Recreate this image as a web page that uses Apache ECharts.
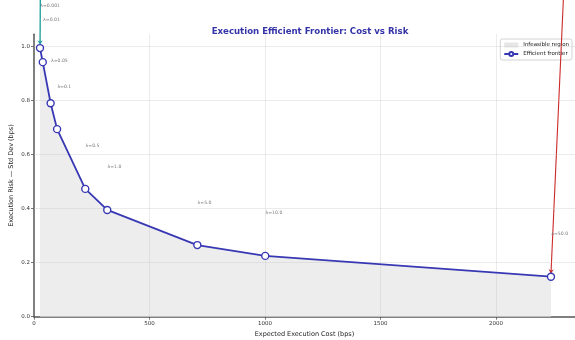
<!DOCTYPE html>
<html>
<head>
<meta charset="utf-8">
<script src="https://cdn.jsdelivr.net/npm/echarts@6/dist/echarts.min.js"></script>
<style>
  html, body { margin: 0; padding: 0; background: #fff; }
  #chart { width: 575px; height: 340px; }
</style>
</head>
<body>
<div id="chart"></div>
<script>
// Efficient frontier: expected cost vs execution risk for each risk-aversion level
const costBps = [26, 38, 72, 100, 222, 317, 707, 1001, 2238];
const riskBps = [0.994, 0.942, 0.790, 0.694, 0.473, 0.395, 0.265, 0.225, 0.148];
const lambdaLabels = ['λ=0.001', 'λ=0.01', 'λ=0.05', 'λ=0.1', 'λ=0.5', 'λ=1.0', 'λ=5.0', 'λ=10.0', 'λ=50.0'];

// Axis ticks / grid positions
const xTicks = [500, 1000, 1500, 2000];
const yTicks = [0.2, 0.4, 0.6, 0.8, 1.0];

// Annotation arrows (start -> tip) pointing at the two extreme schedules
const minRiskArrow = [[27.3, 1.18], [26.3, 1.007]];
const minCostArrow = [[2292, 1.18], [2238, 0.16]];

const FRONTIER = '#3838b4';
const FONT = 'DejaVu Sans';

const frontierData = costBps.map((c, i) => [c, riskBps[i]]);

const chart = echarts.init(document.getElementById('chart'), null, { renderer: 'canvas' });

chart.setOption({
  animation: false,
  backgroundColor: '#fff',
  textStyle: { fontFamily: FONT },
  title: {
    text: 'Execution Efficient Frontier: Cost vs Risk',
    left: 305, top: 22, textAlign: 'center',
    textStyle: { fontFamily: FONT, fontSize: 8.6, fontWeight: 'bold', color: '#3434a8' }
  },
  grid: { left: 34, right: 0, top: 34.3, bottom: 23.3, containLabel: false, outerBoundsMode: 'none' },
  legend: {
    orient: 'vertical',
    right: 3, top: 39,
    itemWidth: 14, itemHeight: 5, itemGap: 3,
    padding: [3, 3, 3, 3],
    borderColor: '#c8c8c8', borderWidth: 0.8, borderRadius: 2,
    backgroundColor: '#fff',
    textStyle: { fontFamily: FONT, fontSize: 5.5, color: '#222' },
    data: [
      { name: 'Infeasible region', icon: 'rect' },
      { name: 'Efficient frontier' }
    ]
  },
  xAxis: {
    type: 'value', min: 0, max: 2342, interval: 500,
    name: 'Expected Execution Cost (bps)', nameLocation: 'middle', nameGap: 14,
    nameMoveOverlap: false,
    nameTextStyle: { fontFamily: FONT, fontSize: 6.5, color: '#222' },
    axisLine: { show: true, lineStyle: { color: '#555', width: 1.5 } },
    axisTick: { show: true, length: 3, lineStyle: { color: '#555', width: 0.8 } },
    axisLabel: { fontSize: 5.5, color: '#333', margin: 4, showMaxLabel: false, fontFamily: FONT,
      formatter: v => String(Math.round(v)) },
    splitLine: { show: false }
  },
  yAxis: {
    type: 'value', min: 0, max: 1.045, interval: 0.2,
    name: 'Execution Risk — Std Dev (bps)', nameLocation: 'middle', nameGap: 19,
    nameMoveOverlap: false,
    nameTextStyle: { fontFamily: FONT, fontSize: 6.5, color: '#222' },
    axisLine: { show: true, lineStyle: { color: '#555', width: 1.5 } },
    axisTick: { show: true, length: 3, lineStyle: { color: '#555', width: 0.8 } },
    axisLabel: { fontSize: 5.5, color: '#333', margin: 4, showMaxLabel: false, fontFamily: FONT,
      formatter: v => v.toFixed(1) },
    splitLine: { show: false }
  },
  series: [
    {
      name: 'Infeasible region',
      type: 'line',
      data: frontierData,
      symbol: 'none',
      lineStyle: { width: 0, opacity: 0 },
      itemStyle: { color: '#e6e6e6' },
      areaStyle: { color: '#ededed', opacity: 1 },
      z: 1,
      silent: true,
      markLine: {
        silent: true,
        symbol: 'none',
        label: { show: false },
        lineStyle: { color: 'rgba(200,200,200,0.45)', width: 0.8, type: 'solid' },
        data: xTicks.map(v => ({ xAxis: v })).concat(yTicks.map(v => ({ yAxis: v })))
      }
    },
    {
      name: 'Efficient frontier',
      type: 'line',
      data: frontierData,
      symbol: 'circle',
      symbolSize: 7,
      showAllSymbol: true,
      lineStyle: { color: FRONTIER, width: 1.8 },
      itemStyle: { color: '#fff', borderColor: FRONTIER, borderWidth: 1.4 },
      z: 5,
      clip: false,
      label: {
        show: true,
        position: [4.5, -38.5],
        align: 'left', verticalAlign: 'middle',
        fontFamily: FONT, fontSize: 4.6, color: '#7a7a7a',
        formatter: p => lambdaLabels[p.dataIndex]
      }
    },
    {
      name: 'min-risk arrow',
      type: 'lines',
      coordinateSystem: 'cartesian2d',
      clip: false,
      silent: true,
      symbol: ['none', 'arrow'],
      symbolSize: 4,
      lineStyle: { color: '#1a9c9c', width: 1.3, opacity: 1 },
      data: [{ coords: minRiskArrow }],
      z: 4
    },
    {
      name: 'min-cost arrow',
      type: 'lines',
      coordinateSystem: 'cartesian2d',
      clip: false,
      silent: true,
      symbol: ['none', 'arrow'],
      symbolSize: 4,
      lineStyle: { color: '#cc2a2a', width: 1.1, opacity: 1 },
      data: [{ coords: minCostArrow }],
      z: 4
    }
  ]
});
</script>
</body>
</html>
